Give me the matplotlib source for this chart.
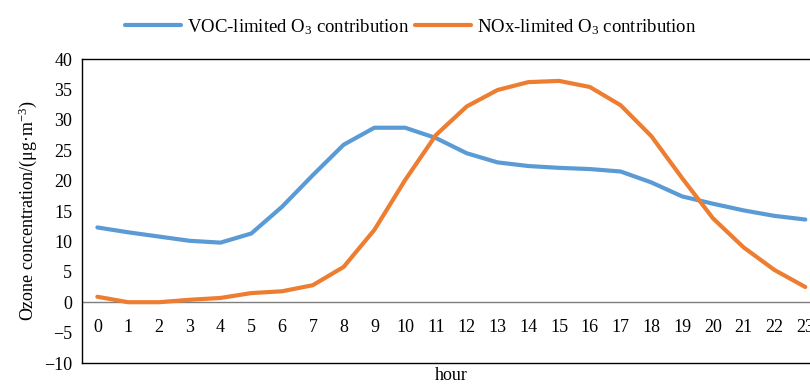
import matplotlib.pyplot as plt

# Hourly ozone contributions (ug/m3)
hours = list(range(24))
voc_limited = [12.3, 11.5, 10.8, 10.1, 9.8, 11.3, 15.7, 20.9, 25.9, 28.7, 28.7, 27.0,
               24.5, 23.0, 22.4, 22.1, 21.9, 21.5, 19.7, 17.4, 16.2, 15.1, 14.2, 13.6]
nox_limited = [0.9, 0.0, 0.0, 0.4, 0.7, 1.5, 1.8, 2.8, 5.8, 11.9, 20.1, 27.5,
               32.2, 34.9, 36.2, 36.4, 35.4, 32.4, 27.3, 20.4, 13.8, 9.0, 5.3, 2.5]
y_ticks = list(range(-10, 45, 5))

plt.rcParams['font.family'] = ['Liberation Serif', 'DejaVu Serif']
plt.rcParams['mathtext.fontset'] = 'custom'
plt.rcParams['mathtext.rm'] = 'Liberation Serif'
plt.rcParams['mathtext.it'] = 'Liberation Serif:italic'

fig = plt.figure(figsize=(8.1, 3.85), dpi=100)
ax = fig.add_axes([0.1012, 0.0571, 0.912, 0.7896])

ax.plot(hours, voc_limited, color='#5B9BD5', lw=3, solid_capstyle='round',
        label='VOC-limited O$_3$ contribution')
ax.plot(hours, nox_limited, color='#ED7D31', lw=3, solid_capstyle='round',
        label='NOx-limited O$_3$ contribution')

ax.axhline(0, color='#7f7f7f', lw=1, zorder=1)
ax.set_xlim(-0.5, 23.5)
ax.set_ylim(-10, 40)
ax.set_yticks(y_ticks)
ax.set_xticks([])
ax.tick_params(axis='y', length=0, pad=7, labelsize=13)

# category labels sit just under the zero line, inside the plot
for h in hours:
    ax.text(h, -4.2, str(h), ha='center', va='center', fontsize=13)

for side in ['left', 'top', 'bottom', 'right']:
    ax.spines[side].set_color('black')
    ax.spines[side].set_linewidth(1)

ax.set_xlabel('hour', fontsize=13, labelpad=3)
ax.set_ylabel('Ozone concentration/(μg·m$^{-3}$)', fontsize=13, labelpad=4)

fig.legend(loc='upper center', bbox_to_anchor=(0.507, 1.0), ncol=2, frameon=False,
           fontsize=13.5, handlelength=3.0, columnspacing=0.3, handletextpad=0.3)

fig.savefig('out.png', dpi=100)
